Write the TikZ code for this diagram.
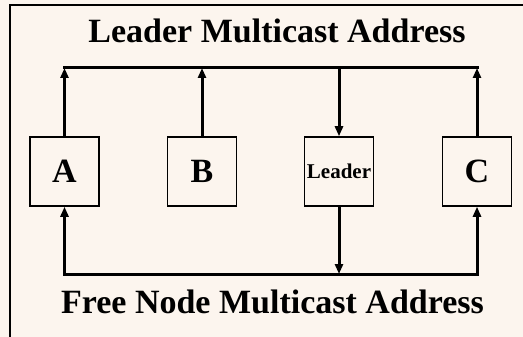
\documentclass[tikz,border=0pt]{standalone}
\usepackage{fontspec}
\setmainfont{Liberation Serif}
\usetikzlibrary{arrows.meta}
\begin{document}
\begin{tikzpicture}[x=1pt,y=-1pt,
  nodebox/.style={draw,line width=1.5pt,minimum size=69pt,inner sep=0pt,
    font=\bfseries\fontsize{34}{34}\selectfont},
  bus/.style={line width=3pt,line cap=rect},
  feed/.style={line width=3pt,-{Triangle[length=10pt,width=8pt]}},
  caption/.style={font=\bfseries\fontsize{34}{34}\selectfont,anchor=base}]

\definecolor{mycream}{RGB}{252,245,238}

\useasboundingbox (0,0) rectangle (523,337);
\fill[mycream] (0,0) rectangle (523,337);
\draw[line width=2.5pt] (10,337) -- (10,5) -- (523,5);

\node[caption] (leadaddr) at (277,42.5) {Leader Multicast Address};
\node[caption] (freeaddr) at (272.5,313) {Free Node Multicast Address};

\node[nodebox] (A) at (64.5,171.5) {A};
\node[nodebox] (B) at (202,171.5) {B};
\node[nodebox,font=\bfseries\fontsize{21}{21}\selectfont] (leader) at (339,171.5) {Leader};
\node[nodebox] (C) at (477,171.5) {C};

\coordinate (topleft) at (64.5,68);
\coordinate (topright) at (477,68);
\coordinate (botleft) at (64.5,274);
\coordinate (botright) at (477,274);

% leader multicast bus
\draw[bus] (topleft) -- (topright);
\draw[feed] (A) -- (A |- topleft);
\draw[feed] (B) -- (B |- topleft);
\draw[feed] (C) -- (C |- topleft);
\draw[feed] (leader |- topleft) -- (leader);

% free node multicast bus
\draw[bus] (botleft) -- (botright);
\draw[feed] (botleft) -- (A);
\draw[feed] (botright) -- (C);
\draw[feed] (leader) -- (leader |- botleft);
\end{tikzpicture}
\end{document}
